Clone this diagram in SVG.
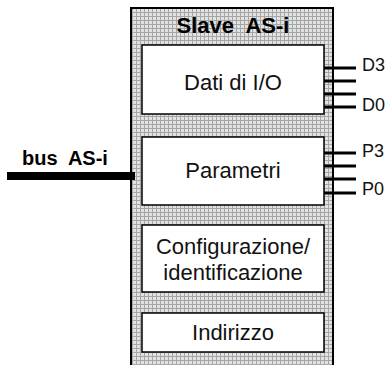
<svg xmlns="http://www.w3.org/2000/svg" width="391" height="365" viewBox="0 0 391 365">
  <style>
    .box { fill: #ffffff; stroke: #000000; stroke-width: 1.5; }
    .lbl { font-family: "Liberation Sans", Arial, sans-serif; font-size: 22px; fill: #111111; text-anchor: middle; }
    .pin { font-family: "Liberation Sans", Arial, sans-serif; font-size: 18px; fill: #111111; }
    .bold { font-family: "Liberation Sans", Arial, sans-serif; font-weight: bold; fill: #000000; white-space: pre; }
    .wire { stroke: #000000; stroke-width: 3; fill: none; }
  </style>
  <defs>
    <pattern id="halftone" x="0" y="0" width="4" height="4" patternUnits="userSpaceOnUse">
      <rect width="4" height="4" fill="#e2e2e2"/>
      <rect width="4" height="1" fill="#a6a6a6"/>
      <rect width="1" height="4" fill="#a6a6a6"/>
    </pattern>
  </defs>

  <g id="slave">
    <rect x="131" y="8" width="202" height="370" fill="url(#halftone)" stroke="#000000" stroke-width="2"/>
    <text class="bold" x="233" y="33" font-size="22" text-anchor="middle" xml:space="preserve">Slave  AS-i</text>
  </g>

  <g id="connectors">
    <rect x="7" y="172" width="128" height="8" fill="#000000"/>
    <line class="wire" x1="324" y1="68" x2="356" y2="68"/>
    <line class="wire" x1="324" y1="81" x2="356" y2="81"/>
    <line class="wire" x1="324" y1="94" x2="356" y2="94"/>
    <line class="wire" x1="324" y1="107" x2="356" y2="107"/>
    <line class="wire" x1="324" y1="153" x2="356" y2="153"/>
    <line class="wire" x1="324" y1="166" x2="356" y2="166"/>
    <line class="wire" x1="324" y1="179" x2="356" y2="179"/>
    <line class="wire" x1="324" y1="193" x2="356" y2="193"/>
  </g>

  <g id="bus">
    <text class="bold" x="22" y="165" font-size="20" xml:space="preserve">bus  AS-i</text>
  </g>

  <g id="dati">
    <rect class="box" x="142" y="45" width="182" height="69"/>
    <text class="lbl" x="233" y="90">Dati di I/O</text>
  </g>

  <g id="parametri">
    <rect class="box" x="142" y="137" width="182" height="68"/>
    <text class="lbl" x="233" y="178">Parametri</text>
  </g>

  <g id="configurazione">
    <rect class="box" x="142" y="225" width="182" height="67"/>
    <text class="lbl" x="233" y="254">Configurazione/</text>
    <text class="lbl" x="233" y="280">identificazione</text>
  </g>

  <g id="indirizzo">
    <rect class="box" x="142" y="313" width="182" height="39"/>
    <text class="lbl" x="233" y="340">Indirizzo</text>
  </g>

  <g id="pins">
    <text class="pin" x="362" y="71">D3</text>
    <text class="pin" x="362" y="111">D0</text>
    <text class="pin" x="362" y="157">P3</text>
    <text class="pin" x="362" y="195">P0</text>
  </g>
</svg>
